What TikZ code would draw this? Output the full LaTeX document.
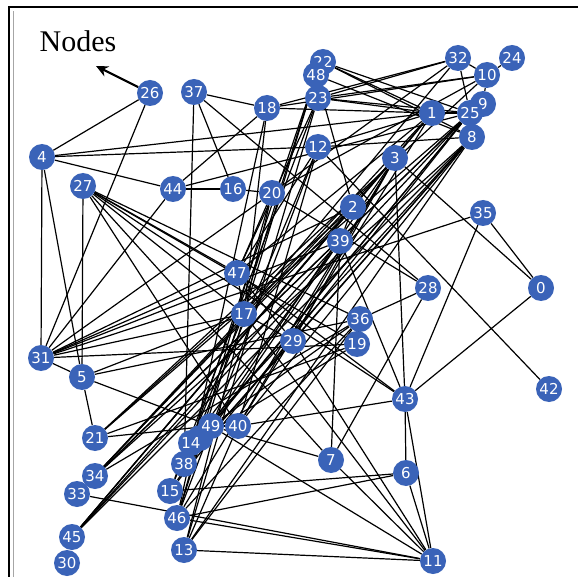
\documentclass[tikz,border=0pt]{standalone}
\usepackage{fontspec}
\setmainfont{Liberation Serif}
\newfontfamily\lblfont{DejaVu Sans}
\usetikzlibrary{backgrounds,arrows.meta}
\definecolor{nodeblue}{HTML}{3A63B8}
\begin{document}
\begin{tikzpicture}[x=1pt,y=-1pt,
  vtx/.style={circle,fill=nodeblue,minimum size=26pt,inner sep=0pt,text=white,font=\lblfont\fontsize{15}{15}\selectfont},
  edgeline/.style={line width=1.2pt,black},
  framelineA/.style={line width=2pt,black},
  framelineB/.style={line width=1.5pt,black!35}]
\useasboundingbox (0,0) rectangle (578,577);
% nodes
\node[vtx] (22) at (323,62) {22};
\node[vtx] (48) at (316,75) {48};
\node[vtx] (23) at (318,98) {23};
\node[vtx] (0) at (541,288) {0};
\node[vtx] (1) at (432,113) {1};
\node[vtx] (2) at (353,207) {2};
\node[vtx] (3) at (395,158) {3};
\node[vtx] (4) at (42,157) {4};
\node[vtx] (5) at (82,377) {5};
\node[vtx] (6) at (406,473) {6};
\node[vtx] (7) at (331,460) {7};
\node[vtx] (10) at (487,75) {10};
\node[vtx] (9) at (483,104) {9};
\node[vtx] (25) at (470,113) {25};
\node[vtx] (8) at (472,137) {8};
\node[vtx] (11) at (433,561) {11};
\node[vtx] (12) at (318,147) {12};
\node[vtx] (13) at (184,550) {13};
\node[vtx] (41) at (200,438) {};
\node[vtx] (14) at (191,443) {14};
\node[vtx] (15) at (170,491) {15};
\node[vtx] (16) at (233,189) {16};
\node[vtx] (17) at (244,314) {17};
\node[vtx] (18) at (267,108) {18};
\node[vtx] (19) at (357,344) {19};
\node[vtx] (20) at (272,193) {20};
\node[vtx] (21) at (95,438) {21};
\node[vtx] (24) at (512,58) {24};
\node[vtx] (26) at (150,93) {26};
\node[vtx] (27) at (83,186) {27};
\node[vtx] (28) at (428,288) {28};
\node[vtx] (29) at (293,341) {29};
\node[vtx] (30) at (67,563) {30};
\node[vtx] (31) at (41,358) {31};
\node[vtx] (32) at (458,58) {32};
\node[vtx] (34) at (95,476) {34};
\node[vtx] (33) at (77,494) {33};
\node[vtx] (35) at (483,213) {35};
\node[vtx] (36) at (360,319) {36};
\node[vtx] (37) at (194,92) {37};
\node[vtx] (38) at (184,464) {38};
\node[vtx] (39) at (340,241) {39};
\node[vtx] (40) at (238,426) {40};
\node[vtx] (42) at (549,389) {42};
\node[vtx] (43) at (405,399) {43};
\node[vtx] (44) at (173,189) {44};
\node[vtx] (45) at (72,537) {45};
\node[vtx] (46) at (177,518) {46};
\node[vtx] (47) at (237,273) {47};
\node[vtx] (49) at (211,426) {49};
\coordinate (arrtip) at (96,66);
\node[font=\fontsize{30}{30}\selectfont,anchor=base] (label) at (78,52) {Nodes};
\draw[-{Stealth[length=12pt,width=11pt]},line width=2.2pt] (26) -- (arrtip);
\begin{scope}[on background layer]
\fill[white] (0,0) rectangle (578,577);
\coordinate (fa) at (9,577);
\coordinate (fb) at (9,7);
\coordinate (fc) at (578,7);
\coordinate (fd) at (13.5,577);
\coordinate (fe) at (13.5,11);
\draw[framelineA] (fa) -- (fb) -- (fc);
\draw[framelineB] (fd) -- (fe);
\foreach \a/\b in {26/4,26/31,37/18,37/38,37/16,37/28,4/1,4/44,44/16,16/20,4/31,4/5,
  27/5,27/47,27/17,27/36,27/19,27/43,27/40,27/7,44/31,44/18,44/25,4/12,
  18/32,18/10,18/1,18/17,18/46,23/32,23/10,23/1,23/25,22/1,22/25,48/2,48/8,48/17,
  23/13,48/46,23/47,12/8,12/1,12/42,32/10,10/24,32/25,32/20,32/17,10/20,10/9,9/25,
  25/8,1/25,1/3,1/47,1/45,25/45,25/34,25/33,25/21,25/15,25/49,8/45,8/34,8/14,8/38,
  8/13,8/40,8/29,3/43,3/45,3/34,3/46,3/40,3/0,3/29,2/39,2/33,2/21,39/43,39/7,
  39/45,39/14,35/0,35/31,35/43,0/43,28/36,28/7,36/19,36/34,36/46,36/13,36/5,19/14,
  19/21,19/31,29/11,29/17,29/38,29/47,17/47,17/11,17/5,17/13,17/15,17/20,47/20,47/43,
  47/12,43/6,43/11,43/40,6/11,6/15,6/46,7/11,7/49,13/11,46/11,33/11,49/11,21/49,
  5/49,5/21,31/5,31/20,31/17,31/39,31/47,31/2,49/40,40/1,40/12,46/20,34/1,45/2,
  15/39,41/25,22/8,20/28,12/38,14/48,38/3,13/40,15/23,49/36,21/10,46/12} {
  \draw[edgeline] (\a) -- (\b);
}
\end{scope}
\end{tikzpicture}
\end{document}
